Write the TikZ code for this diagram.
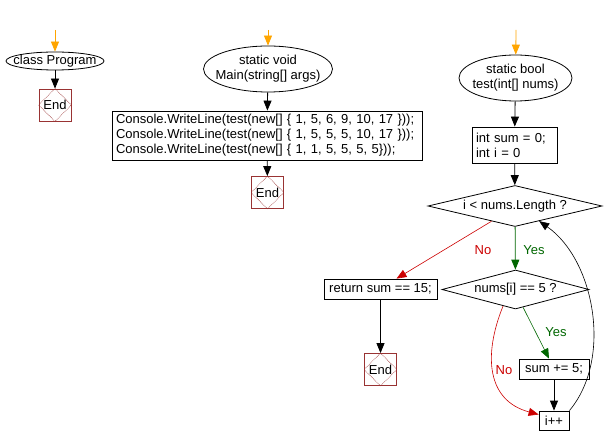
\documentclass[tikz,border=0pt]{standalone}
\usepackage{fontspec}
\setmainfont{Liberation Sans}
\usetikzlibrary{shapes.geometric,arrows.meta,calc}
\definecolor{flowred}{HTML}{CC0000}
\definecolor{flowgreen}{HTML}{006600}
\definecolor{endred}{HTML}{993333}
\definecolor{startorange}{HTML}{FFA500}

% End box with the dotted diamond inside
\newcommand{\stopmark}[2]{%
  \node[endbox] (#1) at (#2) {End};
  \draw[endred, densely dotted, line width=0.6pt] (#1.north) -- (#1.east) -- (#1.south) -- (#1.west) -- cycle;}

\begin{document}
\begin{tikzpicture}[x=1pt, y=1pt, line width=0.8pt,
  font=\fontsize{13}{15}\selectfont,
  start/.style={ellipse, draw, inner sep=0pt},
  stepbox/.style={rectangle, draw, inner sep=0pt},
  decision/.style={diamond, draw, aspect=4, inner sep=0pt},
  endbox/.style={rectangle, draw=endred, minimum size=32pt, inner sep=0pt},
  flow/.style={-{Triangle[length=10pt, width=8pt]}},
  entry/.style={draw=startorange, -{Triangle[length=10pt, width=8pt, fill=startorange]}}]
\useasboundingbox (0,0) rectangle (604,-446);

% class Program
\coordinate (o1) at (55,-30);
\node[start, minimum width=98pt, minimum height=18pt, label={center:class Program}] (cls) at (55,-61) {};
\stopmark{e1}{55,-105}
\draw[entry] (o1) -- (cls);
\draw[flow] (cls) -- (e1);

% Main
\coordinate (o2) at (268,-30);
\node[start, minimum width=129pt, minimum height=46pt, label={[align=center]center:static void\\Main(string[] args)}] (main) at (268,-69) {};
\node[stepbox, minimum width=310pt, minimum height=49pt, text width=302pt, inner xsep=4pt, align=left] (calls) at (267,-135.5)
  {Console.WriteLine(test(new[] \{ 1, 5, 6, 9, 10, 17 \}));\\
   Console.WriteLine(test(new[] \{ 1, 5, 5, 5, 10, 17 \}));\\
   Console.WriteLine(test(new[] \{ 1, 1, 5, 5, 5, 5\}));};
\stopmark{e2}{267.5,-192.5}
\draw[entry] (o2) -- (main);
\draw[flow] (main) -- (calls);
\draw[flow] (calls) -- (e2);

% test
\coordinate (o3) at (516,-30);
\node[start, minimum width=113pt, minimum height=46pt, label={[align=center]center:static bool\\test(int[] nums)}] (test) at (515.5,-78) {};
\node[stepbox, minimum height=36pt, text width=77pt, inner xsep=4pt, align=left] (init) at (514.5,-145) {int sum = 0;\\int i = 0};
\node[decision, minimum width=174pt, minimum height=41pt] (loop) at (515,-206) {i < nums.Length ?};
\node[decision, minimum width=147pt, minimum height=39pt] (check) at (515.5,-289.5) {nums[i] == 5 ?};
\node[stepbox, minimum width=113pt, minimum height=20pt] (ret) at (380.5,-289) {return sum == 15;};
\stopmark{e3}{380.5,-369.5}
\node[stepbox, minimum width=70pt, minimum height=20pt] (add) at (554,-369) {sum += 5;};
\node[stepbox, minimum width=30pt, minimum height=19pt] (incr) at (554,-420.5) {i++};

\draw[entry] (o3) -- (test);
\draw[flow] (test) -- (init);
\draw[flow] (init) -- (loop);
\draw[flow, flowred, line width=0.6pt] (loop.213) -- ([xshift=16pt]ret.north);
\draw[flow, flowgreen] (loop) -- (check);
\draw[flow] (ret) -- (e3);
\draw[flow, flowgreen, line width=0.6pt] (check.-67) -- ([xshift=-5pt]add.north);
\draw[flow, flowred, line width=0.6pt] (check.233) to[out=-112, in=165, looseness=1.2] ([yshift=6pt]incr.west);
\draw[flow] (add) -- (incr);
\draw[flow, line width=0.6pt] (incr.north east) to[out=50, in=-35, looseness=0.9] (loop.-32);

\node[flowred] at (483,-250) {No};
\node[flowgreen] at (534,-250) {Yes};
\node[flowgreen] at (556,-332) {Yes};
\node[flowred] at (504,-370) {No};
\end{tikzpicture}
\end{document}
